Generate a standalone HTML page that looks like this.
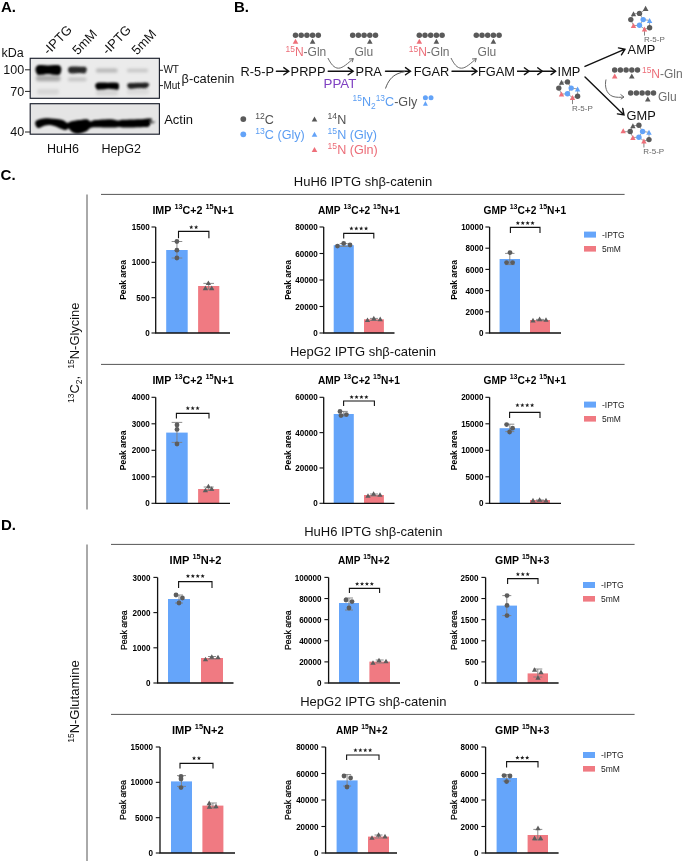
<!DOCTYPE html>
<html><head><meta charset="utf-8"><style>
html,body{margin:0;padding:0;background:#fff;}
svg{display:block;font-family:"Liberation Sans", sans-serif;will-change:transform;}
</style></head><body>
<svg width="685" height="861" viewBox="0 0 685 861">
<rect width="685" height="861" fill="#fff"/>
<rect x="166.2" y="250" width="21.5" height="83" fill="#65a5fa"/>
<rect x="198.1" y="286" width="21.2" height="47" fill="#f07a82"/>
<path d="M176.95 241.5V258M171.65 241.5H182.25M171.65 258H182.25" stroke="#808080" stroke-width="0.9" fill="none"/>
<path d="M208.7 283.4V289M203.4 283.4H214M203.4 289H214" stroke="#808080" stroke-width="0.9" fill="none"/>
<circle cx="176.9" cy="241.5" r="2.4" fill="#5d5d5d"/>
<circle cx="176.9" cy="250.2" r="2.4" fill="#5d5d5d"/>
<circle cx="176.9" cy="258" r="2.4" fill="#5d5d5d"/>
<path d="M208.4 280.42L211.05 285.06L205.75 285.06Z" fill="#5d5d5d"/>
<path d="M205.4 285.52L208.05 290.16L202.75 290.16Z" fill="#5d5d5d"/>
<path d="M211.7 285.52L214.35 290.16L209.05 290.16Z" fill="#5d5d5d"/>
<path d="M155.7 227V333H230" stroke="#111" stroke-width="1.3" fill="none"/>
<path d="M151.5 227H155.7" stroke="#111" stroke-width="1.1"/>
<text transform="translate(149.7 230.1) scale(0.92 1)" text-anchor="end" font-size="8.8" font-weight="bold">1500</text>
<path d="M151.5 262.33H155.7" stroke="#111" stroke-width="1.1"/>
<text transform="translate(149.7 265.43) scale(0.92 1)" text-anchor="end" font-size="8.8" font-weight="bold">1000</text>
<path d="M151.5 297.67H155.7" stroke="#111" stroke-width="1.1"/>
<text transform="translate(149.7 300.77) scale(0.92 1)" text-anchor="end" font-size="8.8" font-weight="bold">500</text>
<path d="M151.5 333H155.7" stroke="#111" stroke-width="1.1"/>
<text transform="translate(149.7 336.1) scale(0.92 1)" text-anchor="end" font-size="8.8" font-weight="bold">0</text>
<text transform="translate(126.1 280) rotate(-90) scale(0.915 1)" text-anchor="middle" font-size="9.3" font-weight="bold">Peak area</text>
<path d="M178.5 238.3V231.4H208.9V238.3" stroke="#111" stroke-width="1.1" fill="none"/>
<path d="M191.25 225.1L191.81 226.53L193.34 226.62L192.15 227.59L192.54 229.08L191.25 228.25L189.96 229.08L190.35 227.59L189.16 226.62L190.69 226.53Z" fill="#1a1a1a"/>
<path d="M196.15 225.1L196.71 226.53L198.24 226.62L197.05 227.59L197.44 229.08L196.15 228.25L194.86 229.08L195.25 227.59L194.06 226.62L195.59 226.53Z" fill="#1a1a1a"/>
<text transform="translate(152.4 214) scale(1.0 1)" font-size="10.7" font-weight="bold"><tspan>IMP&#160;</tspan><tspan font-size="7.4" dy="-4.8">13</tspan><tspan dy="4.8">C+2&#160;</tspan><tspan font-size="7.4" dy="-4.8">15</tspan><tspan dy="4.8">N+1</tspan></text>
<rect x="333.7" y="245.2" width="20.1" height="87.8" fill="#65a5fa"/>
<rect x="364" y="319.3" width="19.9" height="13.7" fill="#f07a82"/>
<path d="M343.75 243.6V246.4M339.75 243.6H347.75M339.75 246.4H347.75" stroke="#808080" stroke-width="0.9" fill="none"/>
<path d="M373.95 318.4V320.4M369.95 318.4H377.95M369.95 320.4H377.95" stroke="#808080" stroke-width="0.9" fill="none"/>
<circle cx="337.5" cy="246.1" r="2.4" fill="#5d5d5d"/>
<circle cx="343.7" cy="243.4" r="2.4" fill="#5d5d5d"/>
<circle cx="350" cy="245" r="2.4" fill="#5d5d5d"/>
<path d="M367.5 317.42L370.15 322.06L364.85 322.06Z" fill="#5d5d5d"/>
<path d="M373.8 315.82L376.45 320.46L371.15 320.46Z" fill="#5d5d5d"/>
<path d="M380.2 316.52L382.85 321.16L377.55 321.16Z" fill="#5d5d5d"/>
<path d="M323.7 227V333H394.5" stroke="#111" stroke-width="1.3" fill="none"/>
<path d="M319.5 227H323.7" stroke="#111" stroke-width="1.1"/>
<text transform="translate(317.7 230.1) scale(0.92 1)" text-anchor="end" font-size="8.8" font-weight="bold">80000</text>
<path d="M319.5 253.5H323.7" stroke="#111" stroke-width="1.1"/>
<text transform="translate(317.7 256.6) scale(0.92 1)" text-anchor="end" font-size="8.8" font-weight="bold">60000</text>
<path d="M319.5 280H323.7" stroke="#111" stroke-width="1.1"/>
<text transform="translate(317.7 283.1) scale(0.92 1)" text-anchor="end" font-size="8.8" font-weight="bold">40000</text>
<path d="M319.5 306.5H323.7" stroke="#111" stroke-width="1.1"/>
<text transform="translate(317.7 309.6) scale(0.92 1)" text-anchor="end" font-size="8.8" font-weight="bold">20000</text>
<path d="M319.5 333H323.7" stroke="#111" stroke-width="1.1"/>
<text transform="translate(317.7 336.1) scale(0.92 1)" text-anchor="end" font-size="8.8" font-weight="bold">0</text>
<text transform="translate(291.4 280) rotate(-90) scale(0.915 1)" text-anchor="middle" font-size="9.3" font-weight="bold">Peak area</text>
<path d="M343.7 238.4V233.4H373.8V238.4" stroke="#111" stroke-width="1.1" fill="none"/>
<path d="M351.4 226.3L351.96 227.73L353.49 227.82L352.3 228.79L352.69 230.28L351.4 229.45L350.11 230.28L350.5 228.79L349.31 227.82L350.84 227.73Z" fill="#1a1a1a"/>
<path d="M356.3 226.3L356.86 227.73L358.39 227.82L357.2 228.79L357.59 230.28L356.3 229.45L355.01 230.28L355.4 228.79L354.21 227.82L355.74 227.73Z" fill="#1a1a1a"/>
<path d="M361.2 226.3L361.76 227.73L363.29 227.82L362.1 228.79L362.49 230.28L361.2 229.45L359.91 230.28L360.3 228.79L359.11 227.82L360.64 227.73Z" fill="#1a1a1a"/>
<path d="M366.1 226.3L366.66 227.73L368.19 227.82L367 228.79L367.39 230.28L366.1 229.45L364.81 230.28L365.2 228.79L364.01 227.82L365.54 227.73Z" fill="#1a1a1a"/>
<text transform="translate(318 214) scale(0.952 1)" font-size="10.7" font-weight="bold"><tspan>AMP&#160;</tspan><tspan font-size="7.4" dy="-4.8">13</tspan><tspan dy="4.8">C+2&#160;</tspan><tspan font-size="7.4" dy="-4.8">15</tspan><tspan dy="4.8">N+1</tspan></text>
<rect x="499.6" y="259" width="20.4" height="74" fill="#65a5fa"/>
<rect x="530" y="320" width="20" height="13" fill="#f07a82"/>
<path d="M509.8 253.4V264.6M505.1 253.4H514.5M505.1 264.6H514.5" stroke="#808080" stroke-width="0.9" fill="none"/>
<path d="M540 319.4V320.6M536 319.4H544M536 320.6H544" stroke="#808080" stroke-width="0.9" fill="none"/>
<circle cx="510" cy="252.6" r="2.4" fill="#5d5d5d"/>
<circle cx="506.6" cy="262.6" r="2.4" fill="#5d5d5d"/>
<circle cx="512.6" cy="262.6" r="2.4" fill="#5d5d5d"/>
<path d="M533 317.82L535.65 322.46L530.35 322.46Z" fill="#5d5d5d"/>
<path d="M539.6 316.62L542.25 321.25L536.95 321.25Z" fill="#5d5d5d"/>
<path d="M546 317.22L548.65 321.86L543.35 321.86Z" fill="#5d5d5d"/>
<path d="M489.6 227V333H561" stroke="#111" stroke-width="1.3" fill="none"/>
<path d="M485.4 227H489.6" stroke="#111" stroke-width="1.1"/>
<text transform="translate(483.6 230.1) scale(0.92 1)" text-anchor="end" font-size="8.8" font-weight="bold">10000</text>
<path d="M485.4 248.2H489.6" stroke="#111" stroke-width="1.1"/>
<text transform="translate(483.6 251.3) scale(0.92 1)" text-anchor="end" font-size="8.8" font-weight="bold">8000</text>
<path d="M485.4 269.4H489.6" stroke="#111" stroke-width="1.1"/>
<text transform="translate(483.6 272.5) scale(0.92 1)" text-anchor="end" font-size="8.8" font-weight="bold">6000</text>
<path d="M485.4 290.6H489.6" stroke="#111" stroke-width="1.1"/>
<text transform="translate(483.6 293.7) scale(0.92 1)" text-anchor="end" font-size="8.8" font-weight="bold">4000</text>
<path d="M485.4 311.8H489.6" stroke="#111" stroke-width="1.1"/>
<text transform="translate(483.6 314.9) scale(0.92 1)" text-anchor="end" font-size="8.8" font-weight="bold">2000</text>
<path d="M485.4 333H489.6" stroke="#111" stroke-width="1.1"/>
<text transform="translate(483.6 336.1) scale(0.92 1)" text-anchor="end" font-size="8.8" font-weight="bold">0</text>
<text transform="translate(457 280) rotate(-90) scale(0.915 1)" text-anchor="middle" font-size="9.3" font-weight="bold">Peak area</text>
<path d="M510.4 233V227.4H540V233" stroke="#111" stroke-width="1.1" fill="none"/>
<path d="M517.85 220.9L518.41 222.33L519.94 222.42L518.75 223.39L519.14 224.88L517.85 224.05L516.56 224.88L516.95 223.39L515.76 222.42L517.29 222.33Z" fill="#1a1a1a"/>
<path d="M522.75 220.9L523.31 222.33L524.84 222.42L523.65 223.39L524.04 224.88L522.75 224.05L521.46 224.88L521.85 223.39L520.66 222.42L522.19 222.33Z" fill="#1a1a1a"/>
<path d="M527.65 220.9L528.21 222.33L529.74 222.42L528.55 223.39L528.94 224.88L527.65 224.05L526.36 224.88L526.75 223.39L525.56 222.42L527.09 222.33Z" fill="#1a1a1a"/>
<path d="M532.55 220.9L533.11 222.33L534.64 222.42L533.45 223.39L533.84 224.88L532.55 224.05L531.26 224.88L531.65 223.39L530.46 222.42L531.99 222.33Z" fill="#1a1a1a"/>
<text transform="translate(483.6 214) scale(0.953 1)" font-size="10.7" font-weight="bold"><tspan>GMP&#160;</tspan><tspan font-size="7.4" dy="-4.8">13</tspan><tspan dy="4.8">C+2&#160;</tspan><tspan font-size="7.4" dy="-4.8">15</tspan><tspan dy="4.8">N+1</tspan></text>
<rect x="166.2" y="432.6" width="21.5" height="70.7" fill="#65a5fa"/>
<rect x="198.1" y="489" width="21.2" height="14.3" fill="#f07a82"/>
<path d="M176.95 422.4V442.4M171.65 422.4H182.25M171.65 442.4H182.25" stroke="#808080" stroke-width="0.9" fill="none"/>
<path d="M208.7 487V490.5M203.7 487H213.7M203.7 490.5H213.7" stroke="#808080" stroke-width="0.9" fill="none"/>
<circle cx="177" cy="425" r="2.4" fill="#5d5d5d"/>
<circle cx="177" cy="429.4" r="2.4" fill="#5d5d5d"/>
<circle cx="177" cy="444" r="2.4" fill="#5d5d5d"/>
<path d="M205.4 487.72L208.05 492.36L202.75 492.36Z" fill="#5d5d5d"/>
<path d="M208.4 483.72L211.05 488.36L205.75 488.36Z" fill="#5d5d5d"/>
<path d="M211.7 486.22L214.35 490.86L209.05 490.86Z" fill="#5d5d5d"/>
<path d="M155.7 397.3V503.3H230" stroke="#111" stroke-width="1.3" fill="none"/>
<path d="M151.5 397.3H155.7" stroke="#111" stroke-width="1.1"/>
<text transform="translate(149.7 400.4) scale(0.92 1)" text-anchor="end" font-size="8.8" font-weight="bold">4000</text>
<path d="M151.5 423.8H155.7" stroke="#111" stroke-width="1.1"/>
<text transform="translate(149.7 426.9) scale(0.92 1)" text-anchor="end" font-size="8.8" font-weight="bold">3000</text>
<path d="M151.5 450.3H155.7" stroke="#111" stroke-width="1.1"/>
<text transform="translate(149.7 453.4) scale(0.92 1)" text-anchor="end" font-size="8.8" font-weight="bold">2000</text>
<path d="M151.5 476.8H155.7" stroke="#111" stroke-width="1.1"/>
<text transform="translate(149.7 479.9) scale(0.92 1)" text-anchor="end" font-size="8.8" font-weight="bold">1000</text>
<path d="M151.5 503.3H155.7" stroke="#111" stroke-width="1.1"/>
<text transform="translate(149.7 506.4) scale(0.92 1)" text-anchor="end" font-size="8.8" font-weight="bold">0</text>
<text transform="translate(126.1 450.3) rotate(-90) scale(0.915 1)" text-anchor="middle" font-size="9.3" font-weight="bold">Peak area</text>
<path d="M176.4 418.4V413.4H209V418.4" stroke="#111" stroke-width="1.1" fill="none"/>
<path d="M187.8 406.1L188.36 407.53L189.89 407.62L188.7 408.59L189.09 410.08L187.8 409.25L186.51 410.08L186.9 408.59L185.71 407.62L187.24 407.53Z" fill="#1a1a1a"/>
<path d="M192.7 406.1L193.26 407.53L194.79 407.62L193.6 408.59L193.99 410.08L192.7 409.25L191.41 410.08L191.8 408.59L190.61 407.62L192.14 407.53Z" fill="#1a1a1a"/>
<path d="M197.6 406.1L198.16 407.53L199.69 407.62L198.5 408.59L198.89 410.08L197.6 409.25L196.31 410.08L196.7 408.59L195.51 407.62L197.04 407.53Z" fill="#1a1a1a"/>
<text transform="translate(152.4 383.6) scale(1.0 1)" font-size="10.7" font-weight="bold"><tspan>IMP&#160;</tspan><tspan font-size="7.4" dy="-4.8">13</tspan><tspan dy="4.8">C+2&#160;</tspan><tspan font-size="7.4" dy="-4.8">15</tspan><tspan dy="4.8">N+1</tspan></text>
<rect x="333.7" y="414" width="20.1" height="89.3" fill="#65a5fa"/>
<rect x="364" y="495" width="19.9" height="8.3" fill="#f07a82"/>
<path d="M343.75 411.4V416M339.75 411.4H347.75M339.75 416H347.75" stroke="#808080" stroke-width="0.9" fill="none"/>
<path d="M373.95 494V496M369.95 494H377.95M369.95 496H377.95" stroke="#808080" stroke-width="0.9" fill="none"/>
<circle cx="340" cy="411.4" r="2.4" fill="#5d5d5d"/>
<circle cx="341" cy="415.6" r="2.4" fill="#5d5d5d"/>
<circle cx="346.4" cy="414.6" r="2.4" fill="#5d5d5d"/>
<path d="M368 493.22L370.65 497.86L365.35 497.86Z" fill="#5d5d5d"/>
<path d="M373.6 491.22L376.25 495.86L370.95 495.86Z" fill="#5d5d5d"/>
<path d="M380 492.22L382.65 496.86L377.35 496.86Z" fill="#5d5d5d"/>
<path d="M323.7 397.3V503.3H394.5" stroke="#111" stroke-width="1.3" fill="none"/>
<path d="M319.5 397.3H323.7" stroke="#111" stroke-width="1.1"/>
<text transform="translate(317.7 400.4) scale(0.92 1)" text-anchor="end" font-size="8.8" font-weight="bold">60000</text>
<path d="M319.5 432.63H323.7" stroke="#111" stroke-width="1.1"/>
<text transform="translate(317.7 435.73) scale(0.92 1)" text-anchor="end" font-size="8.8" font-weight="bold">40000</text>
<path d="M319.5 467.97H323.7" stroke="#111" stroke-width="1.1"/>
<text transform="translate(317.7 471.07) scale(0.92 1)" text-anchor="end" font-size="8.8" font-weight="bold">20000</text>
<path d="M319.5 503.3H323.7" stroke="#111" stroke-width="1.1"/>
<text transform="translate(317.7 506.4) scale(0.92 1)" text-anchor="end" font-size="8.8" font-weight="bold">0</text>
<text transform="translate(291.4 450.3) rotate(-90) scale(0.915 1)" text-anchor="middle" font-size="9.3" font-weight="bold">Peak area</text>
<path d="M343.6 406V401H374.4V406" stroke="#111" stroke-width="1.1" fill="none"/>
<path d="M351.65 394.9L352.21 396.33L353.74 396.42L352.55 397.39L352.94 398.88L351.65 398.05L350.36 398.88L350.75 397.39L349.56 396.42L351.09 396.33Z" fill="#1a1a1a"/>
<path d="M356.55 394.9L357.11 396.33L358.64 396.42L357.45 397.39L357.84 398.88L356.55 398.05L355.26 398.88L355.65 397.39L354.46 396.42L355.99 396.33Z" fill="#1a1a1a"/>
<path d="M361.45 394.9L362.01 396.33L363.54 396.42L362.35 397.39L362.74 398.88L361.45 398.05L360.16 398.88L360.55 397.39L359.36 396.42L360.89 396.33Z" fill="#1a1a1a"/>
<path d="M366.35 394.9L366.91 396.33L368.44 396.42L367.25 397.39L367.64 398.88L366.35 398.05L365.06 398.88L365.45 397.39L364.26 396.42L365.79 396.33Z" fill="#1a1a1a"/>
<text transform="translate(318 383.6) scale(0.952 1)" font-size="10.7" font-weight="bold"><tspan>AMP&#160;</tspan><tspan font-size="7.4" dy="-4.8">13</tspan><tspan dy="4.8">C+2&#160;</tspan><tspan font-size="7.4" dy="-4.8">15</tspan><tspan dy="4.8">N+1</tspan></text>
<rect x="499.6" y="428.2" width="20.4" height="75.1" fill="#65a5fa"/>
<rect x="530" y="500" width="20" height="3.3" fill="#f07a82"/>
<path d="M509.8 424.2V431.6M505.3 424.2H514.3M505.3 431.6H514.3" stroke="#808080" stroke-width="0.9" fill="none"/>
<path d="M540 500V501M536 500H544M536 501H544" stroke="#808080" stroke-width="0.9" fill="none"/>
<circle cx="506.6" cy="424.6" r="2.4" fill="#5d5d5d"/>
<circle cx="512.6" cy="428.2" r="2.4" fill="#5d5d5d"/>
<circle cx="509.6" cy="432" r="2.4" fill="#5d5d5d"/>
<path d="M533 497.82L535.65 502.46L530.35 502.46Z" fill="#5d5d5d"/>
<path d="M539.6 497.22L542.25 501.86L536.95 501.86Z" fill="#5d5d5d"/>
<path d="M546 497.82L548.65 502.46L543.35 502.46Z" fill="#5d5d5d"/>
<path d="M489.6 397.3V503.3H561" stroke="#111" stroke-width="1.3" fill="none"/>
<path d="M485.4 397.3H489.6" stroke="#111" stroke-width="1.1"/>
<text transform="translate(483.6 400.4) scale(0.92 1)" text-anchor="end" font-size="8.8" font-weight="bold">20000</text>
<path d="M485.4 423.8H489.6" stroke="#111" stroke-width="1.1"/>
<text transform="translate(483.6 426.9) scale(0.92 1)" text-anchor="end" font-size="8.8" font-weight="bold">15000</text>
<path d="M485.4 450.3H489.6" stroke="#111" stroke-width="1.1"/>
<text transform="translate(483.6 453.4) scale(0.92 1)" text-anchor="end" font-size="8.8" font-weight="bold">10000</text>
<path d="M485.4 476.8H489.6" stroke="#111" stroke-width="1.1"/>
<text transform="translate(483.6 479.9) scale(0.92 1)" text-anchor="end" font-size="8.8" font-weight="bold">5000</text>
<path d="M485.4 503.3H489.6" stroke="#111" stroke-width="1.1"/>
<text transform="translate(483.6 506.4) scale(0.92 1)" text-anchor="end" font-size="8.8" font-weight="bold">0</text>
<text transform="translate(457 450.3) rotate(-90) scale(0.915 1)" text-anchor="middle" font-size="9.3" font-weight="bold">Peak area</text>
<path d="M509.6 418V412.4H540V418" stroke="#111" stroke-width="1.1" fill="none"/>
<path d="M517.45 403.1L518.01 404.53L519.54 404.62L518.35 405.59L518.74 407.08L517.45 406.25L516.16 407.08L516.55 405.59L515.36 404.62L516.89 404.53Z" fill="#1a1a1a"/>
<path d="M522.35 403.1L522.91 404.53L524.44 404.62L523.25 405.59L523.64 407.08L522.35 406.25L521.06 407.08L521.45 405.59L520.26 404.62L521.79 404.53Z" fill="#1a1a1a"/>
<path d="M527.25 403.1L527.81 404.53L529.34 404.62L528.15 405.59L528.54 407.08L527.25 406.25L525.96 407.08L526.35 405.59L525.16 404.62L526.69 404.53Z" fill="#1a1a1a"/>
<path d="M532.15 403.1L532.71 404.53L534.24 404.62L533.05 405.59L533.44 407.08L532.15 406.25L530.86 407.08L531.25 405.59L530.06 404.62L531.59 404.53Z" fill="#1a1a1a"/>
<text transform="translate(483.6 383.6) scale(0.953 1)" font-size="10.7" font-weight="bold"><tspan>GMP&#160;</tspan><tspan font-size="7.4" dy="-4.8">13</tspan><tspan dy="4.8">C+2&#160;</tspan><tspan font-size="7.4" dy="-4.8">15</tspan><tspan dy="4.8">N+1</tspan></text>
<rect x="168" y="599" width="22" height="84" fill="#65a5fa"/>
<rect x="201" y="658" width="22" height="25" fill="#f07a82"/>
<path d="M179 595V603M175 595H183M175 603H183" stroke="#808080" stroke-width="0.9" fill="none"/>
<path d="M212 656.5V659M208 656.5H216M208 659H216" stroke="#808080" stroke-width="0.9" fill="none"/>
<circle cx="176" cy="595" r="2.4" fill="#5d5d5d"/>
<circle cx="182.4" cy="598" r="2.4" fill="#5d5d5d"/>
<circle cx="179" cy="603" r="2.4" fill="#5d5d5d"/>
<path d="M205.5 656.72L208.15 661.36L202.85 661.36Z" fill="#5d5d5d"/>
<path d="M211.8 654.22L214.45 658.86L209.15 658.86Z" fill="#5d5d5d"/>
<path d="M218 654.72L220.65 659.36L215.35 659.36Z" fill="#5d5d5d"/>
<path d="M157.6 577.4V683H233.5" stroke="#111" stroke-width="1.3" fill="none"/>
<path d="M153.4 577.4H157.6" stroke="#111" stroke-width="1.1"/>
<text transform="translate(150.6 580.5) scale(0.92 1)" text-anchor="end" font-size="8.8" font-weight="bold">3000</text>
<path d="M153.4 612.6H157.6" stroke="#111" stroke-width="1.1"/>
<text transform="translate(150.6 615.7) scale(0.92 1)" text-anchor="end" font-size="8.8" font-weight="bold">2000</text>
<path d="M153.4 647.8H157.6" stroke="#111" stroke-width="1.1"/>
<text transform="translate(150.6 650.9) scale(0.92 1)" text-anchor="end" font-size="8.8" font-weight="bold">1000</text>
<path d="M153.4 683H157.6" stroke="#111" stroke-width="1.1"/>
<text transform="translate(150.6 686.1) scale(0.92 1)" text-anchor="end" font-size="8.8" font-weight="bold">0</text>
<text transform="translate(126.8 630.2) rotate(-90) scale(0.94 1)" text-anchor="middle" font-size="9.3" stroke="#000" stroke-width="0.25">Peak area</text>
<path d="M178.6 588V581.6H212V588" stroke="#111" stroke-width="1.1" fill="none"/>
<path d="M187.95 573.9L188.51 575.33L190.04 575.42L188.85 576.39L189.24 577.88L187.95 577.05L186.66 577.88L187.05 576.39L185.86 575.42L187.39 575.33Z" fill="#1a1a1a"/>
<path d="M192.85 573.9L193.41 575.33L194.94 575.42L193.75 576.39L194.14 577.88L192.85 577.05L191.56 577.88L191.95 576.39L190.76 575.42L192.29 575.33Z" fill="#1a1a1a"/>
<path d="M197.75 573.9L198.31 575.33L199.84 575.42L198.65 576.39L199.04 577.88L197.75 577.05L196.46 577.88L196.85 576.39L195.66 575.42L197.19 575.33Z" fill="#1a1a1a"/>
<path d="M202.65 573.9L203.21 575.33L204.74 575.42L203.55 576.39L203.94 577.88L202.65 577.05L201.36 577.88L201.75 576.39L200.56 575.42L202.09 575.33Z" fill="#1a1a1a"/>
<text transform="translate(169.6 563.6) scale(1.0 1)" font-size="11.1" font-weight="bold"><tspan>IMP&#160;</tspan><tspan font-size="7.4" dy="-4.8">15</tspan><tspan dy="4.8">N+2</tspan></text>
<rect x="339" y="603" width="20" height="80" fill="#65a5fa"/>
<rect x="369.4" y="661.6" width="20.6" height="21.4" fill="#f07a82"/>
<path d="M349 598V610M345 598H353M345 610H353" stroke="#808080" stroke-width="0.9" fill="none"/>
<path d="M379.7 660V663M375.7 660H383.7M375.7 663H383.7" stroke="#808080" stroke-width="0.9" fill="none"/>
<circle cx="346" cy="600" r="2.4" fill="#5d5d5d"/>
<circle cx="352" cy="601.6" r="2.4" fill="#5d5d5d"/>
<circle cx="349" cy="608" r="2.4" fill="#5d5d5d"/>
<path d="M373 660.22L375.65 664.86L370.35 664.86Z" fill="#5d5d5d"/>
<path d="M379 657.72L381.65 662.36L376.35 662.36Z" fill="#5d5d5d"/>
<path d="M386 658.72L388.65 663.36L383.35 663.36Z" fill="#5d5d5d"/>
<path d="M328.6 577.4V683H400" stroke="#111" stroke-width="1.3" fill="none"/>
<path d="M324.4 577.4H328.6" stroke="#111" stroke-width="1.1"/>
<text transform="translate(321.6 580.5) scale(0.92 1)" text-anchor="end" font-size="8.8" font-weight="bold">100000</text>
<path d="M324.4 598.52H328.6" stroke="#111" stroke-width="1.1"/>
<text transform="translate(321.6 601.62) scale(0.92 1)" text-anchor="end" font-size="8.8" font-weight="bold">80000</text>
<path d="M324.4 619.64H328.6" stroke="#111" stroke-width="1.1"/>
<text transform="translate(321.6 622.74) scale(0.92 1)" text-anchor="end" font-size="8.8" font-weight="bold">60000</text>
<path d="M324.4 640.76H328.6" stroke="#111" stroke-width="1.1"/>
<text transform="translate(321.6 643.86) scale(0.92 1)" text-anchor="end" font-size="8.8" font-weight="bold">40000</text>
<path d="M324.4 661.88H328.6" stroke="#111" stroke-width="1.1"/>
<text transform="translate(321.6 664.98) scale(0.92 1)" text-anchor="end" font-size="8.8" font-weight="bold">20000</text>
<path d="M324.4 683H328.6" stroke="#111" stroke-width="1.1"/>
<text transform="translate(321.6 686.1) scale(0.92 1)" text-anchor="end" font-size="8.8" font-weight="bold">0</text>
<text transform="translate(291 630.2) rotate(-90) scale(0.94 1)" text-anchor="middle" font-size="9.3" stroke="#000" stroke-width="0.25">Peak area</text>
<path d="M349.4 593V588.4H379.6V593" stroke="#111" stroke-width="1.1" fill="none"/>
<path d="M357.15 581.7L357.71 583.13L359.24 583.22L358.05 584.19L358.44 585.68L357.15 584.85L355.86 585.68L356.25 584.19L355.06 583.22L356.59 583.13Z" fill="#1a1a1a"/>
<path d="M362.05 581.7L362.61 583.13L364.14 583.22L362.95 584.19L363.34 585.68L362.05 584.85L360.76 585.68L361.15 584.19L359.96 583.22L361.49 583.13Z" fill="#1a1a1a"/>
<path d="M366.95 581.7L367.51 583.13L369.04 583.22L367.85 584.19L368.24 585.68L366.95 584.85L365.66 585.68L366.05 584.19L364.86 583.22L366.39 583.13Z" fill="#1a1a1a"/>
<path d="M371.85 581.7L372.41 583.13L373.94 583.22L372.75 584.19L373.14 585.68L371.85 584.85L370.56 585.68L370.95 584.19L369.76 583.22L371.29 583.13Z" fill="#1a1a1a"/>
<text transform="translate(338 563.6) scale(0.91 1)" font-size="11.1" font-weight="bold"><tspan>AMP&#160;</tspan><tspan font-size="7.4" dy="-4.8">15</tspan><tspan dy="4.8">N+2</tspan></text>
<rect x="496.6" y="605.6" width="20.4" height="77.4" fill="#65a5fa"/>
<rect x="527.6" y="673.4" width="20.4" height="9.6" fill="#f07a82"/>
<path d="M506.8 595.6V615.6M502.3 595.6H511.3M502.3 615.6H511.3" stroke="#808080" stroke-width="0.9" fill="none"/>
<path d="M537.8 669V677M533.3 669H542.3M533.3 677H542.3" stroke="#808080" stroke-width="0.9" fill="none"/>
<circle cx="507" cy="595.6" r="2.4" fill="#5d5d5d"/>
<circle cx="507" cy="605.4" r="2.4" fill="#5d5d5d"/>
<circle cx="507" cy="615.6" r="2.4" fill="#5d5d5d"/>
<path d="M534.6 667.22L537.25 671.86L531.95 671.86Z" fill="#5d5d5d"/>
<path d="M541 669.62L543.65 674.25L538.35 674.25Z" fill="#5d5d5d"/>
<path d="M538 675.22L540.65 679.86L535.35 679.86Z" fill="#5d5d5d"/>
<path d="M485.6 577.4V683H558.6" stroke="#111" stroke-width="1.3" fill="none"/>
<path d="M481.4 577.4H485.6" stroke="#111" stroke-width="1.1"/>
<text transform="translate(478.6 580.5) scale(0.92 1)" text-anchor="end" font-size="8.8" font-weight="bold">2500</text>
<path d="M481.4 598.52H485.6" stroke="#111" stroke-width="1.1"/>
<text transform="translate(478.6 601.62) scale(0.92 1)" text-anchor="end" font-size="8.8" font-weight="bold">2000</text>
<path d="M481.4 619.64H485.6" stroke="#111" stroke-width="1.1"/>
<text transform="translate(478.6 622.74) scale(0.92 1)" text-anchor="end" font-size="8.8" font-weight="bold">1500</text>
<path d="M481.4 640.76H485.6" stroke="#111" stroke-width="1.1"/>
<text transform="translate(478.6 643.86) scale(0.92 1)" text-anchor="end" font-size="8.8" font-weight="bold">1000</text>
<path d="M481.4 661.88H485.6" stroke="#111" stroke-width="1.1"/>
<text transform="translate(478.6 664.98) scale(0.92 1)" text-anchor="end" font-size="8.8" font-weight="bold">500</text>
<path d="M481.4 683H485.6" stroke="#111" stroke-width="1.1"/>
<text transform="translate(478.6 686.1) scale(0.92 1)" text-anchor="end" font-size="8.8" font-weight="bold">0</text>
<text transform="translate(457 630.2) rotate(-90) scale(0.94 1)" text-anchor="middle" font-size="9.3" stroke="#000" stroke-width="0.25">Peak area</text>
<path d="M507.6 584V578.6H538V584" stroke="#111" stroke-width="1.1" fill="none"/>
<path d="M517.9 572.1L518.46 573.53L519.99 573.62L518.8 574.59L519.19 576.08L517.9 575.25L516.61 576.08L517 574.59L515.81 573.62L517.34 573.53Z" fill="#1a1a1a"/>
<path d="M522.8 572.1L523.36 573.53L524.89 573.62L523.7 574.59L524.09 576.08L522.8 575.25L521.51 576.08L521.9 574.59L520.71 573.62L522.24 573.53Z" fill="#1a1a1a"/>
<path d="M527.7 572.1L528.26 573.53L529.79 573.62L528.6 574.59L528.99 576.08L527.7 575.25L526.41 576.08L526.8 574.59L525.61 573.62L527.14 573.53Z" fill="#1a1a1a"/>
<text transform="translate(495 563.6) scale(0.949 1)" font-size="11.1" font-weight="bold"><tspan>GMP&#160;</tspan><tspan font-size="7.4" dy="-4.8">15</tspan><tspan dy="4.8">N+3</tspan></text>
<rect x="171" y="781.4" width="21" height="71.6" fill="#65a5fa"/>
<rect x="202.4" y="805.6" width="21" height="47.4" fill="#f07a82"/>
<path d="M181.5 775.6V786.4M177 775.6H186M177 786.4H186" stroke="#808080" stroke-width="0.9" fill="none"/>
<path d="M212.9 803V808M208.9 803H216.9M208.9 808H216.9" stroke="#808080" stroke-width="0.9" fill="none"/>
<circle cx="181" cy="776.4" r="2.4" fill="#5d5d5d"/>
<circle cx="181" cy="779" r="2.4" fill="#5d5d5d"/>
<circle cx="181" cy="787.6" r="2.4" fill="#5d5d5d"/>
<path d="M209.2 800.62L211.85 805.25L206.55 805.25Z" fill="#5d5d5d"/>
<path d="M209.4 804.02L212.05 808.65L206.75 808.65Z" fill="#5d5d5d"/>
<path d="M216 803.62L218.65 808.25L213.35 808.25Z" fill="#5d5d5d"/>
<path d="M160 747V853H235" stroke="#111" stroke-width="1.3" fill="none"/>
<path d="M155.8 747H160" stroke="#111" stroke-width="1.1"/>
<text transform="translate(153 750.1) scale(0.92 1)" text-anchor="end" font-size="8.8" font-weight="bold">15000</text>
<path d="M155.8 782.33H160" stroke="#111" stroke-width="1.1"/>
<text transform="translate(153 785.43) scale(0.92 1)" text-anchor="end" font-size="8.8" font-weight="bold">10000</text>
<path d="M155.8 817.67H160" stroke="#111" stroke-width="1.1"/>
<text transform="translate(153 820.77) scale(0.92 1)" text-anchor="end" font-size="8.8" font-weight="bold">5000</text>
<path d="M155.8 853H160" stroke="#111" stroke-width="1.1"/>
<text transform="translate(153 856.1) scale(0.92 1)" text-anchor="end" font-size="8.8" font-weight="bold">0</text>
<text transform="translate(126.4 800) rotate(-90) scale(0.94 1)" text-anchor="middle" font-size="9.3" stroke="#000" stroke-width="0.25">Peak area</text>
<path d="M180 768.4V763.4H213V768.4" stroke="#111" stroke-width="1.1" fill="none"/>
<path d="M194.05 756.1L194.61 757.53L196.14 757.62L194.95 758.59L195.34 760.08L194.05 759.25L192.76 760.08L193.15 758.59L191.96 757.62L193.49 757.53Z" fill="#1a1a1a"/>
<path d="M198.95 756.1L199.51 757.53L201.04 757.62L199.85 758.59L200.24 760.08L198.95 759.25L197.66 760.08L198.05 758.59L196.86 757.62L198.39 757.53Z" fill="#1a1a1a"/>
<text transform="translate(172 733.6) scale(1.0 1)" font-size="11.1" font-weight="bold"><tspan>IMP&#160;</tspan><tspan font-size="7.4" dy="-4.8">15</tspan><tspan dy="4.8">N+2</tspan></text>
<rect x="336.6" y="780.4" width="21" height="72.6" fill="#65a5fa"/>
<rect x="368" y="836.6" width="21" height="16.4" fill="#f07a82"/>
<path d="M347.1 774.6V786M343.1 774.6H351.1M343.1 786H351.1" stroke="#808080" stroke-width="0.9" fill="none"/>
<path d="M378.5 835V838M374.5 835H382.5M374.5 838H382.5" stroke="#808080" stroke-width="0.9" fill="none"/>
<circle cx="344" cy="776" r="2.4" fill="#5d5d5d"/>
<circle cx="350.6" cy="778" r="2.4" fill="#5d5d5d"/>
<circle cx="347" cy="787" r="2.4" fill="#5d5d5d"/>
<path d="M372 835.22L374.65 839.86L369.35 839.86Z" fill="#5d5d5d"/>
<path d="M378.6 832.22L381.25 836.86L375.95 836.86Z" fill="#5d5d5d"/>
<path d="M385 833.82L387.65 838.46L382.35 838.46Z" fill="#5d5d5d"/>
<path d="M325.6 747V853H397" stroke="#111" stroke-width="1.3" fill="none"/>
<path d="M321.4 747H325.6" stroke="#111" stroke-width="1.1"/>
<text transform="translate(318.6 750.1) scale(0.92 1)" text-anchor="end" font-size="8.8" font-weight="bold">80000</text>
<path d="M321.4 773.5H325.6" stroke="#111" stroke-width="1.1"/>
<text transform="translate(318.6 776.6) scale(0.92 1)" text-anchor="end" font-size="8.8" font-weight="bold">60000</text>
<path d="M321.4 800H325.6" stroke="#111" stroke-width="1.1"/>
<text transform="translate(318.6 803.1) scale(0.92 1)" text-anchor="end" font-size="8.8" font-weight="bold">40000</text>
<path d="M321.4 826.5H325.6" stroke="#111" stroke-width="1.1"/>
<text transform="translate(318.6 829.6) scale(0.92 1)" text-anchor="end" font-size="8.8" font-weight="bold">20000</text>
<path d="M321.4 853H325.6" stroke="#111" stroke-width="1.1"/>
<text transform="translate(318.6 856.1) scale(0.92 1)" text-anchor="end" font-size="8.8" font-weight="bold">0</text>
<text transform="translate(291.4 800) rotate(-90) scale(0.94 1)" text-anchor="middle" font-size="9.3" stroke="#000" stroke-width="0.25">Peak area</text>
<path d="M346.6 760V755H379V760" stroke="#111" stroke-width="1.1" fill="none"/>
<path d="M355.45 748.1L356.01 749.53L357.54 749.62L356.35 750.59L356.74 752.08L355.45 751.25L354.16 752.08L354.55 750.59L353.36 749.62L354.89 749.53Z" fill="#1a1a1a"/>
<path d="M360.35 748.1L360.91 749.53L362.44 749.62L361.25 750.59L361.64 752.08L360.35 751.25L359.06 752.08L359.45 750.59L358.26 749.62L359.79 749.53Z" fill="#1a1a1a"/>
<path d="M365.25 748.1L365.81 749.53L367.34 749.62L366.15 750.59L366.54 752.08L365.25 751.25L363.96 752.08L364.35 750.59L363.16 749.62L364.69 749.53Z" fill="#1a1a1a"/>
<path d="M370.15 748.1L370.71 749.53L372.24 749.62L371.05 750.59L371.44 752.08L370.15 751.25L368.86 752.08L369.25 750.59L368.06 749.62L369.59 749.53Z" fill="#1a1a1a"/>
<text transform="translate(336 733.6) scale(0.91 1)" font-size="11.1" font-weight="bold"><tspan>AMP&#160;</tspan><tspan font-size="7.4" dy="-4.8">15</tspan><tspan dy="4.8">N+2</tspan></text>
<rect x="496.6" y="778" width="20.4" height="75" fill="#65a5fa"/>
<rect x="527.6" y="835" width="20.4" height="18" fill="#f07a82"/>
<path d="M506.8 774.6V781M502.8 774.6H510.8M502.8 781H510.8" stroke="#808080" stroke-width="0.9" fill="none"/>
<path d="M537.8 829.4V840M533.3 829.4H542.3M533.3 840H542.3" stroke="#808080" stroke-width="0.9" fill="none"/>
<circle cx="504" cy="775.6" r="2.4" fill="#5d5d5d"/>
<circle cx="510" cy="776" r="2.4" fill="#5d5d5d"/>
<circle cx="506.6" cy="781.6" r="2.4" fill="#5d5d5d"/>
<path d="M538 825.62L540.65 830.25L535.35 830.25Z" fill="#5d5d5d"/>
<path d="M534.6 835.62L537.25 840.25L531.95 840.25Z" fill="#5d5d5d"/>
<path d="M540.6 835.62L543.25 840.25L537.95 840.25Z" fill="#5d5d5d"/>
<path d="M485.6 747V853H558.6" stroke="#111" stroke-width="1.3" fill="none"/>
<path d="M481.4 747H485.6" stroke="#111" stroke-width="1.1"/>
<text transform="translate(478.6 750.1) scale(0.92 1)" text-anchor="end" font-size="8.8" font-weight="bold">8000</text>
<path d="M481.4 773.5H485.6" stroke="#111" stroke-width="1.1"/>
<text transform="translate(478.6 776.6) scale(0.92 1)" text-anchor="end" font-size="8.8" font-weight="bold">6000</text>
<path d="M481.4 800H485.6" stroke="#111" stroke-width="1.1"/>
<text transform="translate(478.6 803.1) scale(0.92 1)" text-anchor="end" font-size="8.8" font-weight="bold">4000</text>
<path d="M481.4 826.5H485.6" stroke="#111" stroke-width="1.1"/>
<text transform="translate(478.6 829.6) scale(0.92 1)" text-anchor="end" font-size="8.8" font-weight="bold">2000</text>
<path d="M481.4 853H485.6" stroke="#111" stroke-width="1.1"/>
<text transform="translate(478.6 856.1) scale(0.92 1)" text-anchor="end" font-size="8.8" font-weight="bold">0</text>
<text transform="translate(457 800) rotate(-90) scale(0.94 1)" text-anchor="middle" font-size="9.3" stroke="#000" stroke-width="0.25">Peak area</text>
<path d="M506.6 767.6V761.6H538V767.6" stroke="#111" stroke-width="1.1" fill="none"/>
<path d="M517.4 755.5L517.96 756.93L519.49 757.02L518.3 757.99L518.69 759.48L517.4 758.65L516.11 759.48L516.5 757.99L515.31 757.02L516.84 756.93Z" fill="#1a1a1a"/>
<path d="M522.3 755.5L522.86 756.93L524.39 757.02L523.2 757.99L523.59 759.48L522.3 758.65L521.01 759.48L521.4 757.99L520.21 757.02L521.74 756.93Z" fill="#1a1a1a"/>
<path d="M527.2 755.5L527.76 756.93L529.29 757.02L528.1 757.99L528.49 759.48L527.2 758.65L525.91 759.48L526.3 757.99L525.11 757.02L526.64 756.93Z" fill="#1a1a1a"/>
<text transform="translate(495 733.6) scale(0.949 1)" font-size="11.1" font-weight="bold"><tspan>GMP&#160;</tspan><tspan font-size="7.4" dy="-4.8">15</tspan><tspan dy="4.8">N+3</tspan></text>
<text x="363" y="186" text-anchor="middle" font-size="13" fill="#111">HuH6 IPTG shβ-catenin</text>
<text x="363" y="356.3" text-anchor="middle" font-size="13" fill="#111">HepG2 IPTG shβ-catenin</text>
<text x="373.3" y="536.3" text-anchor="middle" font-size="13" fill="#111">HuH6 IPTG shβ-catenin</text>
<text x="373.3" y="706.3" text-anchor="middle" font-size="13" fill="#111">HepG2 IPTG shβ-catenin</text>
<path d="M101 194.4H624.6" stroke="#555" stroke-width="1"/>
<path d="M101 364.4H624.6" stroke="#555" stroke-width="1"/>
<path d="M111 544.4H634.6" stroke="#555" stroke-width="1"/>
<path d="M111 714.4H634.6" stroke="#555" stroke-width="1"/>
<path d="M87 194.5V509.5M87 544.5V861" stroke="#555" stroke-width="1"/>
<text transform="translate(78.6 352.8) rotate(-90)" text-anchor="middle" font-size="12.9" fill="#111"><tspan font-size="8.5" dy="-4.5">13</tspan><tspan dy="4.5">C</tspan><tspan font-size="8.5" dy="3">2</tspan><tspan dy="-3">,&#160;&#160;</tspan><tspan font-size="8.5" dy="-4.5">15</tspan><tspan dy="4.5">N-Glycine</tspan></text>
<text transform="translate(78.6 701.6) rotate(-90)" text-anchor="middle" font-size="13" fill="#111"><tspan font-size="8.5" dy="-4.5">15</tspan><tspan dy="4.5">N-Glutamine</tspan></text>
<rect x="584" y="231.6" width="12" height="6" fill="#65a5fa"/>
<rect x="584" y="246" width="12" height="5.6" fill="#f07a82"/>
<text x="602" y="237.6" font-size="8.5" fill="#222">-IPTG</text>
<text x="602" y="252" font-size="8.5" fill="#222">5mM</text>
<rect x="584" y="401.6" width="12" height="6" fill="#65a5fa"/>
<rect x="584" y="416" width="12" height="5.6" fill="#f07a82"/>
<text x="602" y="407.6" font-size="8.5" fill="#222">-IPTG</text>
<text x="602" y="422" font-size="8.5" fill="#222">5mM</text>
<rect x="583" y="582" width="12" height="6" fill="#65a5fa"/>
<rect x="583" y="596" width="12" height="5.6" fill="#f07a82"/>
<text x="601" y="588" font-size="8.5" fill="#222">-IPTG</text>
<text x="601" y="602" font-size="8.5" fill="#222">5mM</text>
<rect x="583" y="752" width="12" height="6" fill="#65a5fa"/>
<rect x="583" y="766" width="12" height="5.6" fill="#f07a82"/>
<text x="601" y="758" font-size="8.5" fill="#222">-IPTG</text>
<text x="601" y="772" font-size="8.5" fill="#222">5mM</text>
<text x="0.9" y="11.8" font-size="15" font-weight="bold" fill="#000">A.</text>
<text x="234" y="11.8" font-size="15" font-weight="bold" fill="#000">B.</text>
<text x="0.6" y="180.4" font-size="15" font-weight="bold" fill="#000">C.</text>
<text x="0.9" y="529.9" font-size="15" font-weight="bold" fill="#000">D.</text>
<defs><filter id="b1" x="-20%" y="-50%" width="140%" height="200%"><feGaussianBlur stdDeviation="0.8"/></filter><filter id="b2" x="-20%" y="-50%" width="140%" height="200%"><feGaussianBlur stdDeviation="1.6"/></filter><clipPath id="c1"><rect x="30.2" y="58.3" width="129.2" height="40"/></clipPath><clipPath id="c2"><rect x="30.2" y="103.7" width="129.2" height="30.5"/></clipPath></defs>
<rect x="30.2" y="58.3" width="129.2" height="40" fill="#ebebeb"/>
<rect x="30.2" y="103.7" width="129.2" height="30.5" fill="#e5e5e5"/>
<g clip-path="url(#c1)">
<g filter="url(#b2)"><rect x="36" y="75.2" width="24.5" height="6" rx="2.5" fill="#a9a9a9"/><rect x="68" y="77.6" width="18.5" height="3.6" rx="1.5" fill="#c4c4c4"/><rect x="37" y="89" width="22" height="5.5" rx="2" fill="#d6d6d6"/><rect x="96" y="68.4" width="21.5" height="4" rx="1.5" fill="#b7b7b7"/><rect x="127" y="68.8" width="21" height="3.4" rx="1.5" fill="#c6c6c6"/><rect x="96" y="89.5" width="22" height="6" rx="2" fill="#d4d4d4"/><rect x="127" y="88.5" width="22" height="6" rx="2" fill="#dadada"/></g>
<g filter="url(#b1)">
<path d="M35.4 69.4C35.4 67.93 36.4 66.33 37.5 65.6C38.6 64.87 40.25 65.03 42 65C43.75 64.97 46 65.4 48 65.4C50 65.4 52.08 65 54 65C55.92 65 58.27 64.7 59.5 65.4C60.73 66.1 61.4 67.67 61.4 69.2C61.4 70.73 60.73 73.67 59.5 74.6C58.27 75.53 55.92 74.9 54 74.8C52.08 74.7 50 74 48 74C46 74 43.75 74.73 42 74.8C40.25 74.87 38.6 75.3 37.5 74.4C36.4 73.5 35.4 70.87 35.4 69.4Z" fill="#000"/>
<path d="M68 69.4C68 68.4 68.5 67.47 69.5 67C70.5 66.53 72.25 66.63 74 66.6C75.75 66.57 78.17 66.77 80 66.8C81.83 66.83 83.87 66.4 85 66.8C86.13 67.2 86.8 68.13 86.8 69.2C86.8 70.27 86.13 72.57 85 73.2C83.87 73.83 81.83 72.97 80 73C78.17 73.03 75.75 73.4 74 73.4C72.25 73.4 70.5 73.67 69.5 73C68.5 72.33 68 70.4 68 69.4Z" fill="#2a2a2a"/>
<path d="M95.2 85.6C95.2 84.53 95.87 83.5 97 83C98.13 82.5 100.17 82.63 102 82.6C103.83 82.57 106 82.8 108 82.8C110 82.8 112.3 82.53 114 82.6C115.7 82.67 117.37 82.67 118.2 83.2C119.03 83.73 119 84.73 119 85.8C119 86.87 119.03 89.03 118.2 89.6C117.37 90.17 115.7 89.33 114 89.2C112.3 89.07 110 88.73 108 88.8C106 88.87 103.83 89.5 102 89.6C100.17 89.7 98.13 90.07 97 89.4C95.87 88.73 95.2 86.67 95.2 85.6Z" fill="#000"/>
<path d="M127.2 85.2C127.2 84.33 127.87 83.57 129 83.2C130.13 82.83 132.17 83.07 134 83C135.83 82.93 138 82.87 140 82.8C142 82.73 144.45 82.33 146 82.6C147.55 82.87 149.3 83.5 149.3 84.4C149.3 85.3 147.55 87.4 146 88C144.45 88.6 142 87.93 140 88C138 88.07 135.83 88.33 134 88.4C132.17 88.47 130.13 88.93 129 88.4C127.87 87.87 127.2 86.07 127.2 85.2Z" fill="#222"/>
</g></g>
<g clip-path="url(#c2)"><g filter="url(#b1)" fill="#000">
<path d="M35.1 123.1C35.1 122 35.82 121.02 36.5 120.4C37.18 119.78 37.73 119.75 39.2 119.4C40.67 119.05 43.43 118.47 45.3 118.3C47.17 118.13 48.52 118.3 50.4 118.4C52.28 118.5 54.38 118.57 56.6 118.9C58.82 119.23 61.92 119.73 63.7 120.4C65.48 121.07 66.1 122.7 67.3 122.9C68.5 123.1 68.95 122.07 70.9 121.6C72.85 121.13 76.28 120.5 79 120.1C81.72 119.7 85.32 118.98 87.2 119.2C89.08 119.42 88.93 121.27 90.3 121.4C91.67 121.53 92.95 120.33 95.4 120C97.85 119.67 102.07 119.5 105 119.4C107.93 119.3 110.75 119.2 113 119.4C115.25 119.6 117 120.53 118.5 120.6C120 120.67 119.75 120 122 119.8C124.25 119.6 128.67 119.5 132 119.4C135.33 119.3 139.17 119.33 142 119.2C144.83 119.07 147.33 118.53 149 118.6C150.67 118.67 152 118.33 152 119.6C152 120.87 150.5 124.97 149 126.2C147.5 127.43 145.5 126.8 143 127C140.5 127.2 137.17 127.33 134 127.4C130.83 127.47 126.5 127.48 124 127.4C121.5 127.32 120.67 126.87 119 126.9C117.33 126.93 116.33 127.52 114 127.6C111.67 127.68 108.17 127.47 105 127.4C101.83 127.33 97.5 127.07 95 127.2C92.5 127.33 91.33 127.57 90 128.2C88.67 128.83 88.33 130.2 87 131C85.67 131.8 83.67 132.53 82 133C80.33 133.47 78.67 133.97 77 133.8C75.33 133.63 73.42 132.87 72 132C70.58 131.13 69.5 128.93 68.5 128.6C67.5 128.27 66.92 129.85 66 130C65.08 130.15 64.5 130.02 63 129.5C61.5 128.98 59.17 127.63 57 126.9C54.83 126.17 52 125.32 50 125.1C48 124.88 46.8 125.13 45 125.6C43.2 126.07 40.62 127.67 39.2 127.9C37.78 128.13 37.18 127.8 36.5 127C35.82 126.2 35.1 124.2 35.1 123.1Z"/>
<path d="M149 120.5L156 121.8L152 124Z" fill="#666"/>
</g></g>
<rect x="30.2" y="58.3" width="129.2" height="40" fill="none" stroke="#1b1f2c" stroke-width="1.15"/>
<rect x="30.2" y="103.7" width="129.2" height="30.5" fill="none" stroke="#1b1f2c" stroke-width="1.15"/>
<path d="M25 69.8H30.2M25 91.4H30.2M25 132H30.2M159.4 70.3H163M159.4 85.6H163" stroke="#222" stroke-width="1"/>
<g font-size="12.5" fill="#111"><text x="1.5" y="56.6">kDa</text><text x="24.2" y="74.4" text-anchor="end">100</text><text x="24.2" y="96" text-anchor="end">70</text><text x="24.2" y="136" text-anchor="end">40</text><text x="47" y="153">HuH6</text><text x="101.4" y="153">HepG2</text><text x="181.6" y="83.4" font-size="12.8">β-catenin</text><text x="164.2" y="124" font-size="13">Actin</text></g>
<g font-size="10" fill="#111"><text x="163.4" y="73.4">WT</text><text x="163.4" y="89.4">Mut</text></g>
<text transform="translate(48.6 55.5) rotate(-46)" font-size="13" fill="#111">-IPTG</text>
<text transform="translate(77.8 55.5) rotate(-46)" font-size="13" fill="#111">5mM</text>
<text transform="translate(107.6 55.5) rotate(-46)" font-size="13" fill="#111">-IPTG</text>
<text transform="translate(137 55.5) rotate(-46)" font-size="13" fill="#111">5mM</text>
<g font-size="12.8" fill="#111"><text x="240.6" y="76">R-5-P</text><text x="290.6" y="76">PRPP</text><text x="355.6" y="76">PRA</text><text x="413.8" y="76">FGAR</text><text x="478" y="76">FGAM</text><text x="557.6" y="76">IMP</text><text x="627.6" y="54">AMP</text><text x="626.6" y="119.6">GMP</text></g>
<text x="323.6" y="87.8" font-size="13.3" fill="#7f40c2">PPAT</text>
<path d="M276.4 71.2L288.8 71.2M283.8 74.8L288.8 71.2L283.8 67.6" stroke="#111" stroke-width="1.4" fill="none" stroke-linecap="round" stroke-linejoin="miter"/>
<path d="M328.2 71.2L353.2 71.2M348.2 74.8L353.2 71.2L348.2 67.6" stroke="#111" stroke-width="1.4" fill="none" stroke-linecap="round" stroke-linejoin="miter"/>
<path d="M385.5 71.2L410.5 71.2M405.5 74.8L410.5 71.2L405.5 67.6" stroke="#111" stroke-width="1.4" fill="none" stroke-linecap="round" stroke-linejoin="miter"/>
<path d="M452 71.2L477 71.2M472 74.8L477 71.2L472 67.6" stroke="#111" stroke-width="1.4" fill="none" stroke-linecap="round" stroke-linejoin="miter"/>
<path d="M517 71.2H555.6" stroke="#111" stroke-width="1.4"/>
<path d="M524.4 67.8L529 71.2L524.4 74.6" stroke="#111" stroke-width="1.4" fill="none" stroke-linecap="round"/>
<path d="M537.7 67.8L542.3 71.2L537.7 74.6" stroke="#111" stroke-width="1.4" fill="none" stroke-linecap="round"/>
<path d="M551 67.8L555.6 71.2L551 74.6" stroke="#111" stroke-width="1.4" fill="none" stroke-linecap="round"/>
<path d="M585 66.4L625 49.2M621.45 54.86L625 49.2L618.45 47.88" stroke="#111" stroke-width="1.4" fill="none" stroke-linecap="round" stroke-linejoin="miter"/>
<path d="M585 77L624 115M617.41 113.88L624 115L622.71 108.44" stroke="#111" stroke-width="1.4" fill="none" stroke-linecap="round" stroke-linejoin="miter"/>
<path d="M327.9 58C331 64 334 68.2 338.5 68.2C343 68.2 348 63 353.3 58.6" stroke="#6a6a6a" stroke-width="1" fill="none"/><path d="M349 59L353.3 58.6L352.2 62.2" stroke="#6a6a6a" stroke-width="1" fill="none"/>
<path d="M451 58C454 64 457 68.2 461.5 68.2C466 68.2 471 63 476.3 58.6" stroke="#6a6a6a" stroke-width="1" fill="none"/><path d="M472 59L476.3 58.6L475.2 62.2" stroke="#6a6a6a" stroke-width="1" fill="none"/>
<path d="M606 79.5C604.5 86 606 94 613 96.5C617 97.6 620 97.4 624 97" stroke="#6a6a6a" stroke-width="1" fill="none"/><path d="M620.5 94.4L624 97L620.8 99.2" stroke="#6a6a6a" stroke-width="1" fill="none"/>
<path d="M385.5 88.5C388 81 392 76 398 73.6C400.5 72.6 402.5 72 405 71.6" stroke="#555" stroke-width="1" fill="none"/>
<circle cx="295.5" cy="35.3" r="2.75" fill="#5a5a5a"/><circle cx="301.2" cy="35.3" r="2.75" fill="#5a5a5a"/><circle cx="306.9" cy="35.3" r="2.75" fill="#5a5a5a"/><circle cx="312.6" cy="35.3" r="2.75" fill="#5a5a5a"/><circle cx="318.3" cy="35.3" r="2.75" fill="#5a5a5a"/><path d="M295.5 38.8L298.3 43.8L292.7 43.8Z" fill="#ee6f79"/><path d="M312.6 38.8L315.4 43.8L309.8 43.8Z" fill="#5a5a5a"/>
<circle cx="352.7" cy="35.3" r="2.75" fill="#5a5a5a"/><circle cx="358.4" cy="35.3" r="2.75" fill="#5a5a5a"/><circle cx="364.1" cy="35.3" r="2.75" fill="#5a5a5a"/><circle cx="369.8" cy="35.3" r="2.75" fill="#5a5a5a"/><circle cx="375.5" cy="35.3" r="2.75" fill="#5a5a5a"/><path d="M369.8 38.8L372.6 43.8L367 43.8Z" fill="#5a5a5a"/>
<circle cx="419.3" cy="35.3" r="2.75" fill="#5a5a5a"/><circle cx="425" cy="35.3" r="2.75" fill="#5a5a5a"/><circle cx="430.7" cy="35.3" r="2.75" fill="#5a5a5a"/><circle cx="436.4" cy="35.3" r="2.75" fill="#5a5a5a"/><circle cx="442.1" cy="35.3" r="2.75" fill="#5a5a5a"/><path d="M419.3 38.8L422.1 43.8L416.5 43.8Z" fill="#ee6f79"/><path d="M436.4 38.8L439.2 43.8L433.6 43.8Z" fill="#5a5a5a"/>
<circle cx="476.3" cy="35.3" r="2.75" fill="#5a5a5a"/><circle cx="482" cy="35.3" r="2.75" fill="#5a5a5a"/><circle cx="487.7" cy="35.3" r="2.75" fill="#5a5a5a"/><circle cx="493.4" cy="35.3" r="2.75" fill="#5a5a5a"/><circle cx="499.1" cy="35.3" r="2.75" fill="#5a5a5a"/><path d="M493.4 38.8L496.2 43.8L490.6 43.8Z" fill="#5a5a5a"/>
<circle cx="614.7" cy="70" r="2.75" fill="#5a5a5a"/><circle cx="620.4" cy="70" r="2.75" fill="#5a5a5a"/><circle cx="626.1" cy="70" r="2.75" fill="#5a5a5a"/><circle cx="631.8" cy="70" r="2.75" fill="#5a5a5a"/><circle cx="637.5" cy="70" r="2.75" fill="#5a5a5a"/><path d="M614.7 73.5L617.5 78.5L611.9 78.5Z" fill="#ee6f79"/><path d="M631.8 73.5L634.6 78.5L629 78.5Z" fill="#5a5a5a"/>
<circle cx="630.7" cy="93" r="2.75" fill="#5a5a5a"/><circle cx="636.4" cy="93" r="2.75" fill="#5a5a5a"/><circle cx="642.1" cy="93" r="2.75" fill="#5a5a5a"/><circle cx="647.8" cy="93" r="2.75" fill="#5a5a5a"/><circle cx="653.5" cy="93" r="2.75" fill="#5a5a5a"/><path d="M647.8 96.5L650.6 101.5L645 101.5Z" fill="#5a5a5a"/>
<text x="285.6" y="56.2" font-size="12" fill="#6e6e6e"><tspan font-size="8.4" dy="-4.6" fill="#ec6d78">15</tspan><tspan dy="4.6" fill="#ec6d78">N</tspan>-Gln</text>
<text x="408.8" y="56.2" font-size="12" fill="#6e6e6e"><tspan font-size="8.4" dy="-4.6" fill="#ec6d78">15</tspan><tspan dy="4.6" fill="#ec6d78">N</tspan>-Gln</text>
<text x="642" y="77.6" font-size="12" fill="#6e6e6e"><tspan font-size="8.4" dy="-4.6" fill="#ec6d78">15</tspan><tspan dy="4.6" fill="#ec6d78">N</tspan>-Gln</text>
<text x="354.4" y="56.2" font-size="12" fill="#6e6e6e">Glu</text>
<text x="477.6" y="56.2" font-size="12" fill="#6e6e6e">Glu</text>
<text x="658" y="101" font-size="12" fill="#6e6e6e">Glu</text>
<text x="352.6" y="106" font-size="12.6" fill="#5b9df2"><tspan font-size="8.4" dy="-4.6">15</tspan><tspan dy="4.6">N</tspan><tspan font-size="8.4" dy="3">2</tspan><tspan font-size="8.4" dy="-7.6">13</tspan><tspan dy="4.6">C</tspan><tspan fill="#555">-Gly</tspan></text>
<circle cx="425.4" cy="97.8" r="2.5" fill="#63a3f8"/><circle cx="431" cy="97.8" r="2.5" fill="#63a3f8"/>
<path d="M425.4 101L427.9 105.8L422.9 105.8Z" fill="#63a3f8"/>
<circle cx="243.3" cy="119.1" r="2.9" fill="#5a5a5a"/><circle cx="243.3" cy="134.3" r="2.9" fill="#63a3f8"/>
<path d="M314.5 116.6L317.3 121.6L311.7 121.6Z" fill="#555"/>
<path d="M314.5 131.8L317.3 136.8L311.7 136.8Z" fill="#63a3f8"/>
<path d="M314.5 147L317.3 152L311.7 152Z" fill="#ee6f79"/>
<text x="255.3" y="123.8" font-size="12.6" fill="#505050"><tspan font-size="8.6" dy="-4.8">12</tspan><tspan dy="4.8">C</tspan></text>
<text x="255.3" y="139" font-size="12.6" fill="#5b9df2"><tspan font-size="8.6" dy="-4.8">13</tspan><tspan dy="4.8">C (Gly)</tspan></text>
<text x="327.6" y="123.8" font-size="12.6" fill="#505050"><tspan font-size="8.6" dy="-4.8">14</tspan><tspan dy="4.8">N</tspan></text>
<text x="327.6" y="139" font-size="12.6" fill="#5b9df2"><tspan font-size="8.6" dy="-4.8">15</tspan><tspan dy="4.8">N (Gly)</tspan></text>
<text x="327.6" y="154.2" font-size="12.6" fill="#ec6d78"><tspan font-size="8.6" dy="-4.8">15</tspan><tspan dy="4.8">N (Gln)</tspan></text>
<path d="M561.5 82.3L567.5 81.9" stroke="#777" stroke-width="0.7"/><path d="M561.5 82.3L558.8 88.1" stroke="#777" stroke-width="0.7"/><path d="M558.8 88.1L561.5 94.1" stroke="#777" stroke-width="0.7"/><path d="M561.5 94.1L567.5 93.8" stroke="#777" stroke-width="0.7"/><path d="M567.5 93.8L572.5 97.6" stroke="#777" stroke-width="0.7"/><path d="M572.5 97.6L577.6 96.2" stroke="#777" stroke-width="0.7"/><path d="M577.6 96.2L577.6 88.9" stroke="#777" stroke-width="0.7"/><path d="M577.6 88.9L571.2 88.1" stroke="#777" stroke-width="0.7"/><path d="M571.2 88.1L567.5 81.9" stroke="#777" stroke-width="0.7"/><path d="M571.2 88.1L567.5 93.8" stroke="#777" stroke-width="0.7"/><path d="M572.5 99.6V104.1" stroke="#666" stroke-width="0.8"/><circle cx="567.5" cy="81.9" r="2.7" fill="#5a5a5a"/><circle cx="558.8" cy="88.1" r="2.7" fill="#5a5a5a"/><circle cx="577.6" cy="96.2" r="2.7" fill="#5a5a5a"/><circle cx="571.2" cy="88.1" r="2.7" fill="#63a3f8"/><circle cx="567.5" cy="93.8" r="2.7" fill="#63a3f8"/><path d="M561.5 79.8L564.2 84.8L558.8 84.8Z" fill="#5a5a5a"/><path d="M577.6 86.4L580.3 91.4L574.9 91.4Z" fill="#63a3f8"/><path d="M561.5 91.6L564.2 96.6L558.8 96.6Z" fill="#ee6f79"/><path d="M572.5 95.1L575.2 100.1L569.8 100.1Z" fill="#ee6f79"/><text x="571.9" y="110.8" font-size="8" fill="#666">R-5-P</text>
<path d="M633.5 13.8L639.5 13.4" stroke="#777" stroke-width="0.7"/><path d="M633.5 13.8L630.8 19.6" stroke="#777" stroke-width="0.7"/><path d="M630.8 19.6L633.5 25.6" stroke="#777" stroke-width="0.7"/><path d="M633.5 25.6L639.5 25.3" stroke="#777" stroke-width="0.7"/><path d="M639.5 25.3L644.5 29.1" stroke="#777" stroke-width="0.7"/><path d="M644.5 29.1L649.6 27.7" stroke="#777" stroke-width="0.7"/><path d="M649.6 27.7L649.6 20.4" stroke="#777" stroke-width="0.7"/><path d="M649.6 20.4L643.2 19.6" stroke="#777" stroke-width="0.7"/><path d="M643.2 19.6L639.5 13.4" stroke="#777" stroke-width="0.7"/><path d="M643.2 19.6L639.5 25.3" stroke="#777" stroke-width="0.7"/><path d="M644.5 31.1V35.6" stroke="#666" stroke-width="0.8"/><circle cx="639.5" cy="13.4" r="2.7" fill="#5a5a5a"/><circle cx="630.8" cy="19.6" r="2.7" fill="#5a5a5a"/><circle cx="649.6" cy="27.7" r="2.7" fill="#5a5a5a"/><circle cx="643.2" cy="19.6" r="2.7" fill="#63a3f8"/><circle cx="639.5" cy="25.3" r="2.7" fill="#63a3f8"/><path d="M633.5 11.3L636.2 16.3L630.8 16.3Z" fill="#5a5a5a"/><path d="M649.6 17.9L652.3 22.9L646.9 22.9Z" fill="#63a3f8"/><path d="M633.5 23.1L636.2 28.1L630.8 28.1Z" fill="#ee6f79"/><path d="M644.5 26.6L647.2 31.6L641.8 31.6Z" fill="#ee6f79"/><text x="643.9" y="42.3" font-size="8" fill="#666">R-5-P</text>
<path d="M640.1 13.7L645.4 9" stroke="#777" stroke-width="0.7"/>
<path d="M645.6 5.8L648.5 11L642.7 11Z" fill="#5a5a5a"/>
<path d="M632.9 125.7L638.9 125.3" stroke="#777" stroke-width="0.7"/><path d="M632.9 125.7L630.2 131.5" stroke="#777" stroke-width="0.7"/><path d="M630.2 131.5L632.9 137.5" stroke="#777" stroke-width="0.7"/><path d="M632.9 137.5L638.9 137.2" stroke="#777" stroke-width="0.7"/><path d="M638.9 137.2L643.9 141" stroke="#777" stroke-width="0.7"/><path d="M643.9 141L649 139.6" stroke="#777" stroke-width="0.7"/><path d="M649 139.6L649 132.3" stroke="#777" stroke-width="0.7"/><path d="M649 132.3L642.6 131.5" stroke="#777" stroke-width="0.7"/><path d="M642.6 131.5L638.9 125.3" stroke="#777" stroke-width="0.7"/><path d="M642.6 131.5L638.9 137.2" stroke="#777" stroke-width="0.7"/><path d="M643.9 143V147.5" stroke="#666" stroke-width="0.8"/><circle cx="638.9" cy="125.3" r="2.7" fill="#5a5a5a"/><circle cx="630.2" cy="131.5" r="2.7" fill="#5a5a5a"/><circle cx="649" cy="139.6" r="2.7" fill="#5a5a5a"/><circle cx="642.6" cy="131.5" r="2.7" fill="#63a3f8"/><circle cx="638.9" cy="137.2" r="2.7" fill="#63a3f8"/><path d="M632.9 123.2L635.6 128.2L630.2 128.2Z" fill="#5a5a5a"/><path d="M649 129.8L651.7 134.8L646.3 134.8Z" fill="#63a3f8"/><path d="M632.9 135L635.6 140L630.2 140Z" fill="#ee6f79"/><path d="M643.9 138.5L646.6 143.5L641.2 143.5Z" fill="#ee6f79"/><text x="643.3" y="154.2" font-size="8" fill="#666">R-5-P</text>
<path d="M624.5 131.6L629 131.7" stroke="#777" stroke-width="0.7"/>
<path d="M623.2 128.3L625.9 133.3L620.5 133.3Z" fill="#ee6f79"/>
</svg></body></html>
